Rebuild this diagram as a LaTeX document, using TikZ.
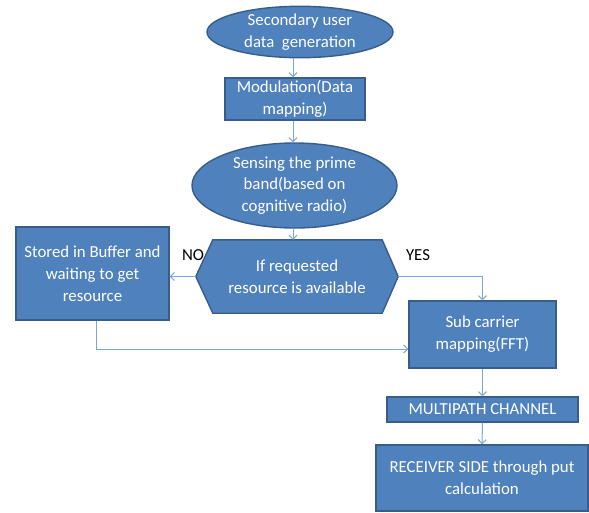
\documentclass[tikz,border=0pt]{standalone}
\usepackage{fontspec}
\setmainfont{Carlito}
\usetikzlibrary{shapes.geometric,arrows.meta}
\pgfdeclarelayer{background}
\pgfsetlayers{background,main}
\definecolor{boxfill}{HTML}{4F81BD}
\definecolor{boxline}{HTML}{385D8A}
\definecolor{arrowcol}{HTML}{7EA6D8}
\begin{document}
\begin{tikzpicture}[x=1pt,y=-1pt,
  every node/.style={font=\fontsize{16.8}{21.8}\selectfont},
  blk/.style={draw=boxline,fill=boxfill,line width=1.4pt,text=white,align=center,inner sep=0pt},
  ellnode/.style={blk,ellipse},
  arr/.style={draw=arrowcol,line width=1pt,-{Straight Barb[length=4pt,width=8pt]}},
  lbl/.style={text=black,inner sep=0pt}]
\clip (0,0) rectangle (589,512);

\node[ellnode,minimum width=186,minimum height=46] (e1) at (300,32) {Secondary user\\data\ \ generation};
\node[blk,rectangle,minimum width=140,minimum height=42] (mod) at (295,99) {Modulation(Data\\mapping)};
\node[ellnode,minimum width=205,minimum height=85] (e2) at (294.5,185.5) {Sensing the prime\\band(based on\\cognitive radio)};
\node[inner sep=0pt,minimum width=202,minimum height=73,align=center,text=white] (hex) at (297,276.5) {If requested\\resource is available};
\begin{pgfonlayer}{background}
\fill[white] (0,0) rectangle (589,512);
\fill[boxfill,draw=boxline,line width=1.4pt,line join=miter]
  (hex.west) -- ([xshift=17]hex.north west) -- ([xshift=-16]hex.north east) -- (hex.east)
  -- ([xshift=-16]hex.south east) -- ([xshift=17]hex.south west) -- cycle;
\end{pgfonlayer}
\node[blk,rectangle,minimum width=153,minimum height=93] (buf) at (92.5,273.5) {Stored in Buffer and\\waiting to get\\resource};
\node[blk,rectangle,minimum width=147,minimum height=67] (sub) at (482.5,334.5) {Sub carrier\\mapping(FFT)};
\node[blk,rectangle,minimum width=191,minimum height=25] (mp) at (482.5,409.5) {MULTIPATH CHANNEL};
\node[blk,rectangle,minimum width=212,minimum height=66] (rx) at (482,478) {RECEIVER SIDE through put\\calculation};

\node[lbl] (no) at (193,255) {NO};
\node[lbl] (yes) at (418,255) {YES};

\coordinate (colA) at (293,0);
\coordinate (bend) at (96,349);

\draw[arr] (e1.south -| colA) -- (mod.north -| colA);
\draw[arr] (mod.south -| colA) -- (e2.north -| colA);
\draw[arr] (e2.south -| colA) -- (hex.north -| colA);
\draw[arr] (hex.west) -- (hex.west -| buf.east);
\draw[arr] (hex.east) -| (sub.north);
\draw[arr] (buf.south -| bend) -- (bend) -- (bend -| sub.west);
\draw[arr] (sub.south) -- (mp.north);
\draw[arr] (mp.south) -- (rx.north);
\end{tikzpicture}
\end{document}
